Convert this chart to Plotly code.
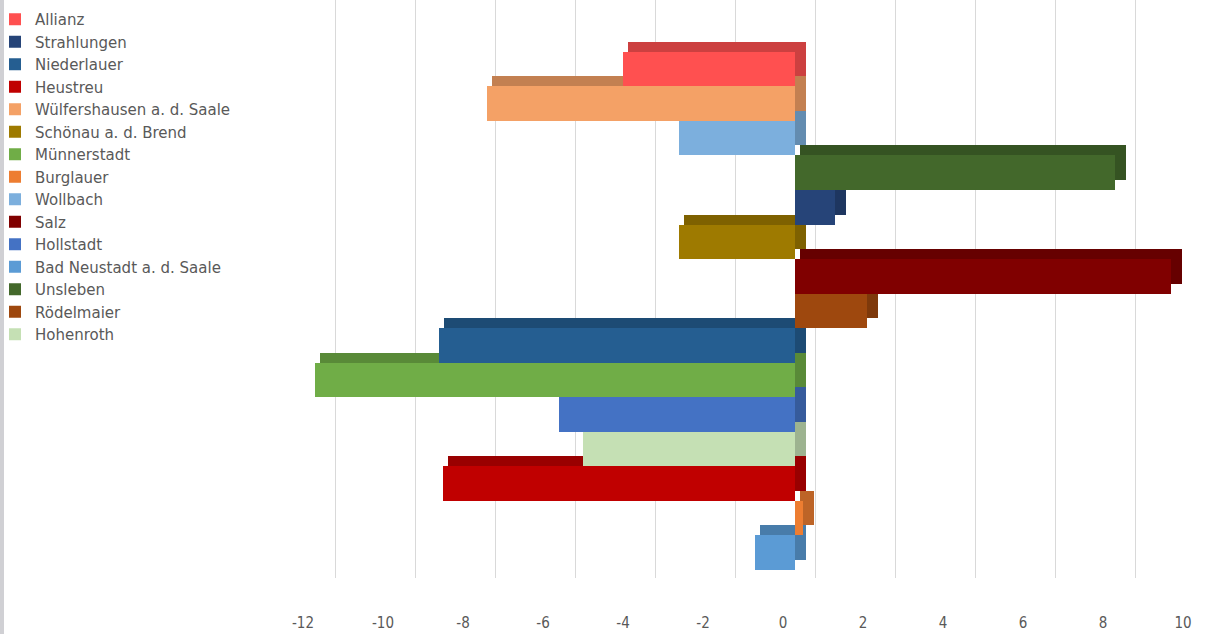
import plotly.graph_objects as go

# Bars, top to bottom
categories = ["Allianz", "Wülfershausen a. d. Saale", "Wollbach", "Unsleben", "Strahlungen",
              "Schönau a. d. Brend", "Salz", "Rödelmaier", "Niederlauer", "Münnerstadt",
              "Hollstadt", "Hohenroth", "Heustreu", "Burglauer", "Bad Neustadt a. d. Saale"]
values = [-4.3, -7.7, -2.9, 8.0, 1.0, -2.9, 9.4, 1.8, -8.9, -12.0, -5.9, -5.3, -8.8, 0.2, -1.0]
colors = ["#FF5050", "#F4A166", "#7CAFDD", "#43682B", "#264478", "#9E7A00", "#800000", "#9E480E",
          "#255E91", "#70AD47", "#4472C4", "#C5E0B4", "#C00000", "#ED7D31", "#5B9BD5"]
legend_order = ["Allianz", "Strahlungen", "Niederlauer", "Heustreu", "Wülfershausen a. d. Saale",
                "Schönau a. d. Brend", "Münnerstadt", "Burglauer", "Wollbach", "Salz", "Hollstadt",
                "Bad Neustadt a. d. Saale", "Unsleben", "Rödelmaier", "Hohenroth"]
tick_vals = [-12, -10, -8, -6, -4, -2, 0, 2, 4, 6, 8, 10]


def shade(hex_color, f):
    h = hex_color.lstrip("#")
    r, g, b = (int(h[i:i + 2], 16) for i in (0, 2, 4))
    return "#%02x%02x%02x" % (int(r * f), int(g * f), int(b * f))


W, H = 1206, 634
L, R = 270, 6
PW = W - L - R
DEPTH = 0.27      # horizontal depth of the 3D faces, in axis units
HALF = DEPTH / 2

fig = go.Figure()

# grid subplot (x / y): back-wall gridlines
fig.add_trace(go.Scatter(x=[0], y=[0], mode="markers", marker=dict(opacity=0),
                         showlegend=False, hoverinfo="skip", xaxis="x", yaxis="y"))

# depth (3D side/top faces)
for c, v, col in zip(categories, values, colors):
    if v >= 0:
        b, xv = HALF, v + HALF
    else:
        b, xv = DEPTH, v - HALF
    fig.add_trace(go.Bar(y=[c], x=[xv], base=b, orientation="h", width=1, offset=-0.5 - 0.29,
                         marker=dict(color=shade(col, 0.8), line=dict(width=0)),
                         showlegend=False, hoverinfo="skip", xaxis="x2", yaxis="y2"))
# front faces
for c, v, col in zip(categories, values, colors):
    fig.add_trace(go.Bar(y=[c], x=[v], orientation="h", width=1, offset=-0.5, name=c,
                         marker=dict(color=col, line=dict(width=0)),
                         legendrank=legend_order.index(c) + 1, xaxis="x2", yaxis="y2"))

px_per_unit = 40.0
zero_front = 795
zero_grid = 815
fig.update_layout(
    width=W, height=H,
    margin=dict(l=L, r=R, t=0, b=0, autoexpand=False),
    paper_bgcolor="white", plot_bgcolor="rgba(0,0,0,0)",
    barmode="overlay",
    bargap=0,
    xaxis=dict(range=[(L - zero_grid) / px_per_unit, (W - R - zero_grid) / px_per_unit],
               tickvals=tick_vals, showticklabels=False, showgrid=True, gridcolor="#D9D9D9",
               gridwidth=1, zeroline=False, showline=False, anchor="y", domain=[0, 1],
               fixedrange=True),
    yaxis=dict(range=[0, 1], showticklabels=False, showgrid=False, zeroline=False,
               domain=[1 - 578 / H, 1], anchor="x", fixedrange=True),
    xaxis2=dict(range=[(L - zero_front) / px_per_unit, (W - R - zero_front) / px_per_unit],
                tickvals=tick_vals, ticktext=[str(t) for t in tick_vals],
                showgrid=False, zeroline=False, showline=False, anchor="y2", domain=[0, 1],
                ticklabelshift=-12, ticklabelstandoff=4, ticks="",
                tickfont=dict(family="Liberation Sans Narrow, DejaVu Sans Condensed, sans-serif",
                              size=15, color="#595959"), fixedrange=True),
    yaxis2=dict(categoryorder="array", categoryarray=categories, type="category",
                range=[15.6, -2.0], showticklabels=False, showgrid=False, zeroline=False,
                domain=[1 - 608 / H, 1], anchor="x2", fixedrange=True),
    legend=dict(xref="paper", yref="paper", x=-(L + 5) / PW, y=1 - 3 / H,
                xanchor="left", yanchor="top", traceorder="normal", tracegroupgap=0,
                font=dict(family="DejaVu Sans, sans-serif", size=15, color="#595959"),
                bgcolor="rgba(0,0,0,0)"),
    shapes=[dict(type="rect", xref="paper", yref="paper", x0=-L / PW, x1=-(L - 4) / PW,
                 y0=0, y1=1, fillcolor="#D0D0D4", line=dict(width=0), layer="above")],
    showlegend=True,
)

fig.write_html("out.html")
